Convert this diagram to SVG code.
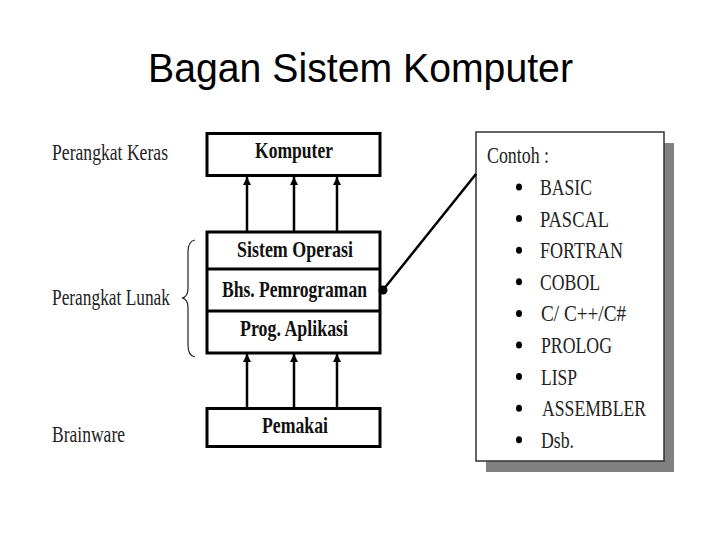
<svg xmlns="http://www.w3.org/2000/svg" width="720" height="540" viewBox="0 0 720 540">
<defs>
<style>
.title{font-family:"Liberation Sans",Arial,sans-serif;font-size:41px;fill:#000}
.lbl{font-family:"Liberation Serif","Times New Roman",serif;font-size:23px;fill:#222}
.bx{font-family:"Liberation Serif","Times New Roman",serif;font-size:23px;font-weight:bold;fill:#111}
.it{font-family:"Liberation Serif","Times New Roman",serif;font-size:24px;fill:#222}
.box{fill:#fff;stroke:#000;stroke-width:3}
.arr{stroke:#000;stroke-width:2.5;fill:none;marker-end:url(#ah)}
</style>
<marker id="ah" viewBox="0 0 8 10" refX="8" refY="5" markerWidth="8" markerHeight="10" markerUnits="userSpaceOnUse" orient="auto">
<path d="M0,1 L8,5 L0,9 Z" fill="#000"/>
</marker>
</defs>
<rect width="720" height="540" fill="#fff"/>
<text class="title" x="148" y="82" textLength="425" lengthAdjust="spacingAndGlyphs">Bagan Sistem Komputer</text>

<g id="labels">
<text class="lbl" x="52" y="160" textLength="116" lengthAdjust="spacingAndGlyphs">Perangkat Keras</text>
<text class="lbl" x="52" y="305" textLength="118" lengthAdjust="spacingAndGlyphs">Perangkat Lunak</text>
<text class="lbl" x="52" y="442" textLength="73" lengthAdjust="spacingAndGlyphs">Brainware</text>
<path d="M195,240 Q188,241 188,252 L188,288 Q188,297 182,298 Q188,299 188,308 L188,345 Q188,356 195,357" fill="none" stroke="#222" stroke-width="1.2"/>
</g>

<g id="komputer">
<rect class="box" x="207" y="133.5" width="173" height="42"/>
<text class="bx" x="255" y="158" textLength="78" lengthAdjust="spacingAndGlyphs">Komputer</text>
</g>

<g id="perangkat-lunak">
<rect class="box" x="207" y="232" width="173" height="121"/>
<line x1="207" y1="269" x2="380" y2="269" stroke="#000" stroke-width="3"/>
<line x1="207" y1="311" x2="380" y2="311" stroke="#000" stroke-width="3"/>
<text class="bx" x="237" y="257" textLength="116" lengthAdjust="spacingAndGlyphs">Sistem Operasi</text>
<text class="bx" x="222" y="297" textLength="145" lengthAdjust="spacingAndGlyphs">Bhs. Pemrograman</text>
<text class="bx" x="240" y="336" textLength="108" lengthAdjust="spacingAndGlyphs">Prog. Aplikasi</text>
</g>

<g id="pemakai">
<rect class="box" x="207" y="408.5" width="173" height="38"/>
<text class="bx" x="262" y="433" textLength="66" lengthAdjust="spacingAndGlyphs">Pemakai</text>
</g>

<g id="contoh">
<rect x="486" y="143" width="188" height="329" fill="#808080"/>
<rect x="476" y="132" width="188" height="329" fill="#fff" stroke="#333" stroke-width="1.5"/>
<text class="it" x="487" y="163" textLength="62" lengthAdjust="spacingAndGlyphs">Contoh :</text>
<g fill="#000">
<ellipse cx="519" cy="187" rx="3" ry="3.5"/>
<ellipse cx="519" cy="218.6" rx="3" ry="3.5"/>
<ellipse cx="519" cy="250.2" rx="3" ry="3.5"/>
<ellipse cx="519" cy="281.8" rx="3" ry="3.5"/>
<ellipse cx="519" cy="313.4" rx="3" ry="3.5"/>
<ellipse cx="519" cy="345" rx="3" ry="3.5"/>
<ellipse cx="519" cy="376.6" rx="3" ry="3.5"/>
<ellipse cx="519" cy="408.2" rx="3" ry="3.5"/>
<ellipse cx="519" cy="439.8" rx="3" ry="3.5"/>
</g>
<text class="it" x="540" y="195" textLength="52" lengthAdjust="spacingAndGlyphs">BASIC</text>
<text class="it" x="540" y="226.6" textLength="69" lengthAdjust="spacingAndGlyphs">PASCAL</text>
<text class="it" x="540" y="258.2" textLength="83" lengthAdjust="spacingAndGlyphs">FORTRAN</text>
<text class="it" x="540" y="289.8" textLength="60" lengthAdjust="spacingAndGlyphs">COBOL</text>
<text class="it" x="541" y="321.4" textLength="85" lengthAdjust="spacingAndGlyphs">C/ C++/C#</text>
<text class="it" x="541" y="353" textLength="71" lengthAdjust="spacingAndGlyphs">PROLOG</text>
<text class="it" x="541" y="384.6" textLength="36" lengthAdjust="spacingAndGlyphs">LISP</text>
<text class="it" x="542" y="416.2" textLength="104" lengthAdjust="spacingAndGlyphs">ASSEMBLER</text>
<text class="it" x="541" y="447.8" textLength="33" lengthAdjust="spacingAndGlyphs">Dsb.</text>
</g>

<g id="connectors">
<line class="arr" x1="247" y1="232" x2="247" y2="177"/>
<line class="arr" x1="294" y1="232" x2="294" y2="177"/>
<line class="arr" x1="337" y1="232" x2="337" y2="177"/>
<line class="arr" x1="247" y1="408" x2="247" y2="354"/>
<line class="arr" x1="294" y1="408" x2="294" y2="354"/>
<line class="arr" x1="337" y1="408" x2="337" y2="354"/>
<line x1="383" y1="290" x2="476" y2="174" stroke="#000" stroke-width="2.5"/>
<circle cx="383" cy="290" r="4.5" fill="#000"/>
</g>
</svg>
